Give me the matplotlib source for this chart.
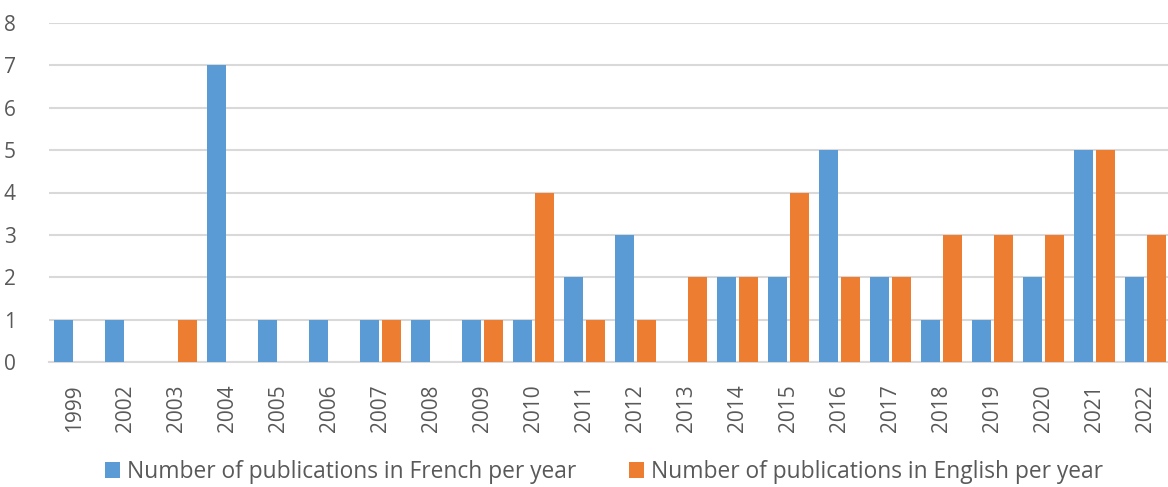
import numpy as np
import matplotlib.pyplot as plt

years = ["1999", "2002", "2003", "2004", "2005", "2006", "2007", "2008", "2009", "2010", "2011",
         "2012", "2013", "2014", "2015", "2016", "2017", "2018", "2019", "2020", "2021", "2022"]
french = [1, 1, 0, 7, 1, 1, 1, 1, 1, 1, 2, 3, 0, 2, 2, 5, 2, 1, 1, 2, 5, 2]
english = [0, 0, 1, 0, 0, 0, 1, 0, 1, 4, 1, 1, 2, 2, 4, 2, 2, 3, 3, 3, 5, 3]

BLUE = "#5B9BD5"
ORANGE = "#ED7D31"
TEXT = "#595959"
GRID = "#D9D9D9"

plt.rcParams["font.family"] = ["Open Sans", "DejaVu Sans"]

W, H = 1168, 487
fig = plt.figure(figsize=(W / 100, H / 100), dpi=100)
# plot area runs a little past the right edge, as in the reference
ax = fig.add_axes([49 / W, (H - 362) / H, 1122 / W, 339 / H])

x = np.arange(len(years))
bw = 0.37
ax.bar(x - 0.21, french, bw, color=BLUE, label="Number of publications in French per year", zorder=3)
ax.bar(x + 0.21, english, bw, color=ORANGE, label="Number of publications in English per year", zorder=3)

ax.set_xlim(-0.5, len(years) - 0.5)
ax.set_ylim(0, 8)
ax.set_yticks(range(9))
ax.yaxis.grid(True, color=GRID, lw=1.5, zorder=0)
ax.set_xticks(x)
ax.set_xticklabels(years, rotation=90, fontsize=15, color=TEXT)
ax.tick_params(axis="y", labelsize=15, labelcolor=TEXT, length=0, pad=24)
ax.tick_params(axis="x", length=0, pad=16)
for s in ["top", "right", "left"]:
    ax.spines[s].set_visible(False)
ax.spines["bottom"].set_color(GRID)
ax.spines["bottom"].set_linewidth(1.5)

fig.legend(loc="center", bbox_to_anchor=(604 / W, 1 - 472 / H), ncol=2, frameon=False,
           fontsize=16.4, labelcolor=TEXT, handlelength=0.66, handleheight=0.66,
           handletextpad=0.3, columnspacing=2.3)

fig.savefig("out.png", dpi=100)
